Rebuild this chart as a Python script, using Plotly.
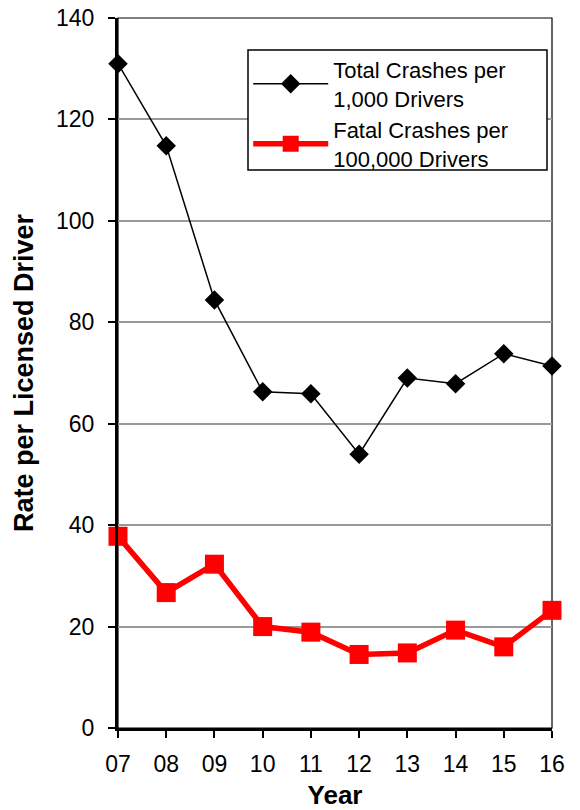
import plotly.graph_objects as go

years = ["07", "08", "09", "10", "11", "12", "13", "14", "15", "16"]
total_crashes = [131.0, 114.8, 84.4, 66.3, 65.9, 54.0, 69.0, 67.9, 73.8, 71.4]
fatal_crashes = [37.8, 26.7, 32.3, 20.0, 18.9, 14.5, 14.8, 19.3, 16.0, 23.2]
y_ticks = [0, 20, 40, 60, 80, 100, 120, 140]

FONT = "Liberation Sans, Arial, sans-serif"

fig = go.Figure()
fig.add_trace(go.Scatter(
    x=years, y=total_crashes, mode="lines+markers",
    name="Total Crashes per<br>1,000 Drivers",
    line=dict(color="black", width=1.5),
    marker=dict(symbol="diamond", size=15, color="black"),
    cliponaxis=False,
))
fig.add_trace(go.Scatter(
    x=years, y=fatal_crashes, mode="lines+markers",
    name="Fatal Crashes per<br>100,000 Drivers",
    line=dict(color="#ff0000", width=5.5),
    marker=dict(symbol="square", size=19, color="#ff0000"),
    cliponaxis=False,
))

fig.update_layout(
    width=580, height=810,
    margin=dict(l=110, r=36, t=10, b=90, autoexpand=False),
    paper_bgcolor="white", plot_bgcolor="white",
    font=dict(family=FONT, size=23, color="black"),
    showlegend=True,
    legend=dict(
        x=0.30, y=0.957, xanchor="left", yanchor="top",
        bgcolor="rgba(0,0,0,0)", borderwidth=0,
        font=dict(size=22), itemwidth=75, tracegroupgap=0,
    ),
)
fig.update_xaxes(
    type="category", range=[0, 9],
    tickvals=years, ticktext=years,
    showline=True, linecolor="black", linewidth=3,
    ticks="outside", ticklen=7, tickwidth=2, tickcolor="black",
    showgrid=False, zeroline=False,
    tickfont=dict(size=23), ticklabelstandoff=6, ticklabeloverflow="allow",
    title=dict(text="<b>Year</b>", font=dict(size=26), standoff=11),
    automargin=False,
)
fig.update_yaxes(
    range=[0, 140], tickvals=y_ticks,
    showline=True, linecolor="black", linewidth=3,
    ticks="outside", ticklen=7, tickwidth=2, tickcolor="black",
    showgrid=True, gridcolor="#999999", gridwidth=1.5,
    zeroline=False,
    tickfont=dict(size=23), ticklabelstandoff=9, ticklabeloverflow="allow",
    title=dict(text="<b>Rate per Licensed Driver</b>", font=dict(size=27), standoff=15),
    automargin=False,
)
fig.add_shape(type="rect", xref="paper", yref="paper", x0=0, x1=1, y0=0, y1=1,
              line=dict(color="black", width=1.2), layer="below")
# legend frame
fig.add_shape(type="rect", xref="paper", yref="paper",
              x0=(248 - 118) / 434, x1=(547 - 118) / 434,
              y0=(728 - 170) / 710, y1=(728 - 50) / 710,
              line=dict(color="black", width=1.5), fillcolor="white", layer="above")

fig.write_html("out.html")
